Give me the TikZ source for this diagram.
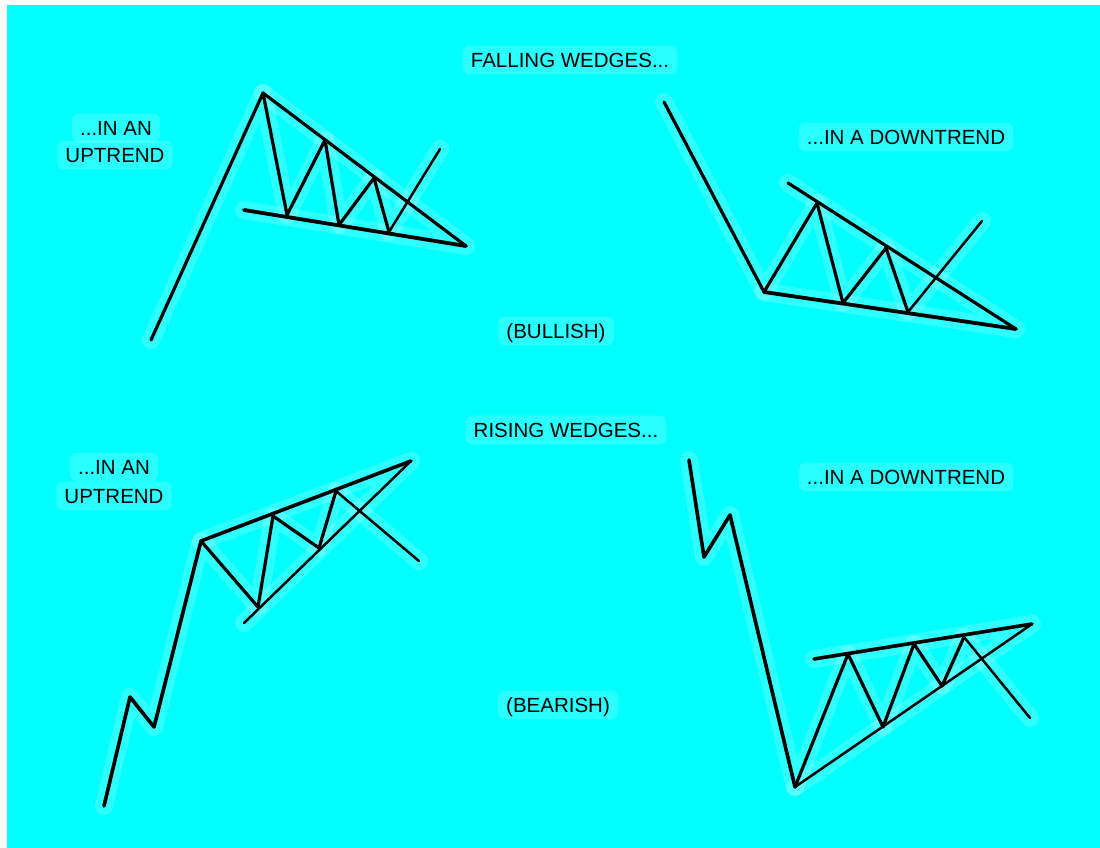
\documentclass[tikz,border=0pt]{standalone}
\usepackage{fontspec}
\setmainfont{Liberation Sans}
\definecolor{bgcyan}{HTML}{00FFFF}
\pgfdeclarelayer{bg}
\pgfdeclarelayer{glow}
\pgfsetlayers{bg,glow,main}
\begin{document}
\begin{tikzpicture}[x=1pt,y=-1pt,
  chart/.style={line width=3.2pt,line join=round,line cap=round,black},
  thin/.style={line width=2.5pt,line join=round,line cap=round,black},
  halo/.style={line width=18pt,white,opacity=0.18,line join=round,line cap=round},
  texthalo/.style={fill=white,opacity=0.16,rounded corners=7pt},
  lab/.style={font=\fontsize{20.5}{22}\selectfont,text=black,inner sep=0pt,text height=14.5pt,text depth=0pt,align=center}]
\begin{pgfonlayer}{bg}
\useasboundingbox (0,0) rectangle (1100,848);
\fill[white] (0,0) rectangle (1100,848);
\fill[bgcyan] (7,5) rectangle (1100,848);
\end{pgfonlayer}

% ---- top-left: falling wedge in an uptrend
\coordinate (a0) at (151,340);
\coordinate (a1) at (263,93);
\coordinate (a2) at (287,215);
\coordinate (a3) at (325,140);
\coordinate (a4) at (339,225);
\coordinate (a5) at (374,178);
\coordinate (a6) at (389,232);
\coordinate (a7) at (440,149);
\coordinate (aL) at (244,210);
\coordinate (aE) at (466,246);
% ---- top-right: falling wedge in a downtrend
\coordinate (b0) at (664,102);
\coordinate (b1) at (764,292);
\coordinate (b2) at (817,203);
\coordinate (b3) at (843,303);
\coordinate (b4) at (886,248);
\coordinate (b5) at (908,312);
\coordinate (b6) at (982,221);
\coordinate (bU) at (788,183);
\coordinate (bE) at (1016,329);
% ---- bottom-left: rising wedge in an uptrend
\coordinate (c0) at (104,806);
\coordinate (c1) at (130,697);
\coordinate (c2) at (154,727);
\coordinate (c3) at (201,541);
\coordinate (c4) at (258,607);
\coordinate (c5) at (273,516);
\coordinate (c6) at (319,548);
\coordinate (c7) at (336,491);
\coordinate (c8) at (419,561);
\coordinate (cL) at (244,623);
\coordinate (cE) at (411,461);
% ---- bottom-right: rising wedge in a downtrend
\coordinate (d0) at (689,460);
\coordinate (d1) at (704,557);
\coordinate (d2) at (730,515);
\coordinate (d3) at (795,787);
\coordinate (d4) at (848,654);
\coordinate (d5) at (883,727);
\coordinate (d6) at (914,644);
\coordinate (d7) at (942,686);
\coordinate (d8) at (964,637);
\coordinate (d9) at (1030,718);
\coordinate (dU) at (814,659);
\coordinate (dE) at (1032,624);

% halos
\begin{pgfonlayer}{glow}
\draw[halo] (a0) -- (a1) -- (a2) -- (a3) -- (a4) -- (a5) -- (a6) -- (a7);
\draw[halo] (a1) -- (aE) -- (aL);
\draw[halo] (b0) -- (b1) -- (b2) -- (b3) -- (b4) -- (b5) -- (b6);
\draw[halo] (b1) -- (bE) -- (bU);
\draw[halo] (c0) -- (c1) -- (c2) -- (c3) -- (c4) -- (c5) -- (c6) -- (c7) -- (c8);
\draw[halo] (c3) -- (cE) -- (cL);
\draw[halo] (d0) -- (d1) -- (d2) -- (d3) -- (d4) -- (d5) -- (d6) -- (d7) -- (d8) -- (d9);
\draw[halo] (d3) -- (dE) -- (dU);
\end{pgfonlayer}

% lines
\draw[chart] (a0) -- (a1) -- (a2) -- (a3) -- (a4) -- (a5) -- (a6);
\draw[thin] (a6) -- (a7);
\draw[chart] (a1) -- (aE);
\draw[chart,line width=3.8pt] (aL) -- (aE);

\draw[chart] (b0) -- (b1) -- (b2) -- (b3) -- (b4) -- (b5);
\draw[thin] (b5) -- (b6);
\draw[chart] (bU) -- (bE);
\draw[chart,line width=3.8pt] (b1) -- (bE);

\draw[chart,line width=3.6pt] (c0) -- (c1) -- (c2) -- (c3);
\draw[chart] (c3) -- (c4) -- (c5) -- (c6) -- (c7);
\draw[thin] (c7) -- (c8);
\draw[chart,line width=3.6pt] (c3) -- (cE);
\draw[thin] (cL) -- (cE);

\draw[chart,line width=3.6pt] (d0) -- (d1) -- (d2) -- (d3);
\draw[chart] (d3) -- (d4) -- (d5) -- (d6) -- (d7) -- (d8);
\draw[thin] (d8) -- (d9);
\draw[chart,line width=3.6pt] (dU) -- (dE);
\draw[thin] (d3) -- (dE);

% labels
\node[lab] (t1) at (570,60) {FALLING WEDGES...};
\node[lab] (t2) at (556,331) {(BULLISH)};
\node[lab] (t3) at (566,430) {RISING WEDGES...};
\node[lab] (t4) at (558,705) {(BEARISH)};
\node[lab] (u1) at (116,128) {...IN AN};
\node[lab] (u2) at (115,155) {UPTREND};
\node[lab] (u3) at (114,467) {...IN AN};
\node[lab] (u4) at (114,496) {UPTREND};
\node[lab] (w1) at (906,137) {...IN A DOWNTREND};
\node[lab] (w2) at (906,477) {...IN A DOWNTREND};

% text halos (speckle imitation)
\begin{pgfonlayer}{glow}
\foreach \n in {t1,t2,t3,t4,u1,u2,u3,u4,w1,w2}
  \fill[texthalo] ([shift={(-8pt,-7pt)}]\n.south west) rectangle ([shift={(8pt,7pt)}]\n.north east);
\end{pgfonlayer}
\end{tikzpicture}
\end{document}
